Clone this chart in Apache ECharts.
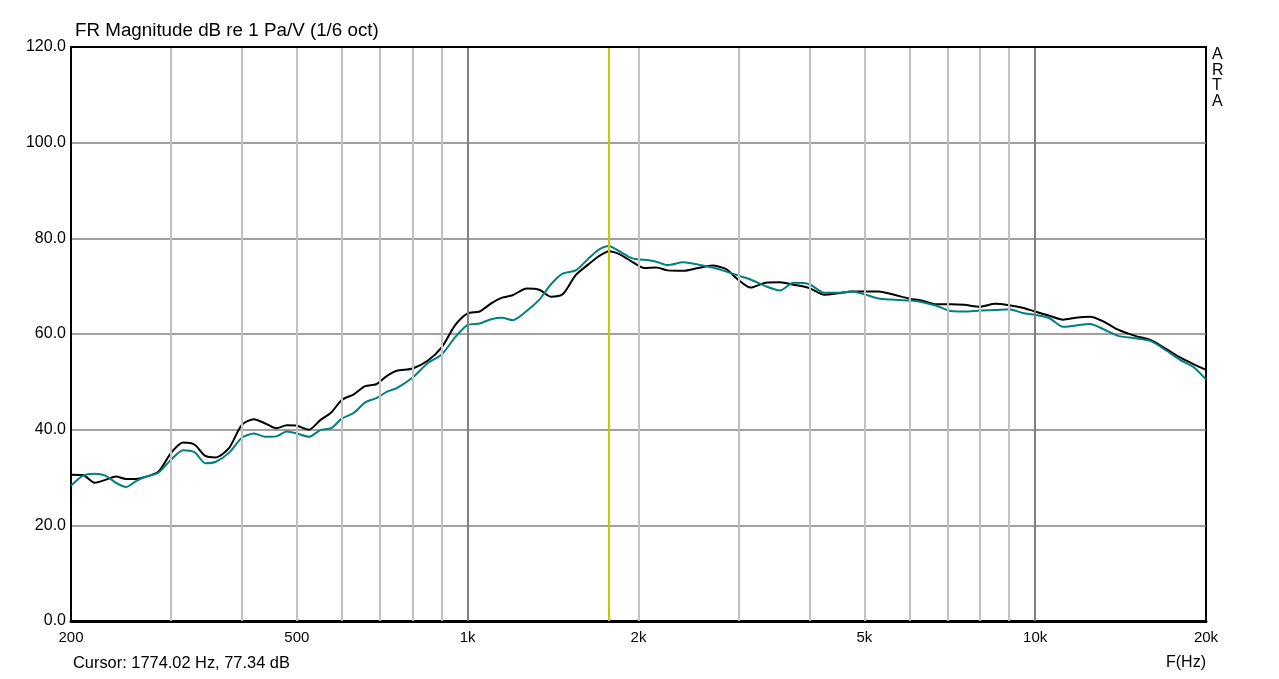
<!DOCTYPE html>
<html><head><meta charset="utf-8">
<script src="https://cdn.jsdelivr.net/npm/echarts@6/dist/echarts.min.js"></script>
<style>html,body{margin:0;padding:0;background:#fff}#c{width:1279px;height:679px}</style>
</head><body><div id="c"></div>
<script>
const freqs = [200,210,220,230,240,250,260,270,285,300,315,330,345,360,380,400,420,440,460,480,500,525,550,575,600,630,660,690,720,750,800,850,900,950,1000,1050,1100,1150,1200,1270,1340,1400,1470,1550,1630,1700,1774,1850,1950,2050,2150,2250,2400,2550,2700,2850,3000,3150,3350,3550,3750,4000,4250,4500,4750,5000,5300,5600,6000,6300,6700,7100,7500,8000,8500,9000,9500,10000,10600,11200,11800,12500,13200,14000,15000,16000,17000,18000,19000,20000];
const blackDb = [30.6,30.5,28.9,29.5,30.2,29.7,29.7,30.1,31.2,35.1,37.3,36.9,34.5,34.2,36.2,41.0,42.2,41.3,40.3,40.9,40.8,40.0,42.0,43.6,46.2,47.4,49.1,49.5,51.2,52.3,52.8,54.4,57.2,61.8,64.3,64.7,66.4,67.6,68.1,69.5,69.2,67.8,68.3,72.3,74.5,76.2,77.3,76.7,75.1,73.8,73.9,73.3,73.2,73.8,74.3,73.6,71.3,69.7,70.7,70.8,70.3,69.6,68.2,68.5,68.9,68.9,68.9,68.3,67.4,67.0,66.2,66.2,66.1,65.7,66.3,66.0,65.5,64.7,63.8,63.0,63.4,63.6,62.6,60.9,59.6,58.7,56.9,55.1,53.7,52.5];
const tealDb = [28.3,30.4,30.8,30.4,28.9,28.0,29.2,30.1,31.0,33.7,35.7,35.3,33.0,33.3,35.2,38.3,39.2,38.5,38.6,39.6,39.2,38.5,39.9,40.3,42.3,43.5,45.7,46.6,47.9,48.7,50.9,53.9,55.7,59.3,61.9,62.2,63.1,63.4,62.9,64.8,67.3,70.3,72.6,73.3,75.7,77.6,78.4,77.3,75.8,75.5,75.1,74.4,75.0,74.5,73.9,73.1,72.2,71.4,70.0,69.1,70.7,70.4,68.6,68.6,68.9,68.3,67.4,67.2,67.0,66.7,65.9,64.8,64.7,64.9,65.0,65.2,64.4,64.0,63.3,61.5,61.8,62.1,61.0,59.6,59.1,58.5,56.6,54.6,53.1,50.5];
const xTickValues = [200,500,1000,2000,5000,10000,20000];
const xTickText = ['200','500','1k','2k','5k','10k','20k'];
const minorGridFreqs = [300,400,500,600,700,800,900,2000,3000,4000,5000,6000,7000,8000,9000];
const majorGridFreqs = [1000,10000];
const cursorFreq = 1774.02;
const cursorText = 'Cursor: 1774.02 Hz, 77.34 dB';

const FONT = 'Liberation Sans, Arial, sans-serif';
const pair = (arr) => freqs.map((f,i)=>[f,arr[i]]);

const gridLines = [];
minorGridFreqs.forEach(f=>gridLines.push({xAxis:f,lineStyle:{color:'#c0c0c0',width:2,type:'solid'},label:{show:false}}));
majorGridFreqs.forEach(f=>gridLines.push({xAxis:f,lineStyle:{color:'#808080',width:2,type:'solid'},label:{show:false}}));
gridLines.push({xAxis:cursorFreq,lineStyle:{color:'#c8c800',width:2,type:'solid'},label:{show:false}});

const chart = echarts.init(document.getElementById('c'),null,{renderer:'canvas'});
chart.setOption({
  animation:false,
  backgroundColor:'#fff',
  grid:{left:71,right:73,top:47,bottom:58,show:true,borderColor:'#000',borderWidth:2,backgroundColor:'transparent'},
  xAxis:{type:'log',logBase:10,min:200,max:20000,axisLine:{show:true,onZero:false,lineStyle:{color:'#000',width:3}},axisTick:{show:false},axisLabel:{show:false},splitLine:{show:false}},
  yAxis:{type:'value',min:0,max:120,interval:20,axisLine:{show:true,lineStyle:{color:'#000',width:2}},axisTick:{show:false},
    axisLabel:{formatter:v=>v.toFixed(1),color:'#000',fontSize:16,fontFamily:FONT,margin:5},
    splitLine:{lineStyle:{color:'#808080',width:1.5}}},
  series:[
    {type:'line',data:pair(blackDb),symbol:'none',lineStyle:{opacity:0},silent:true,z:1,
     markLine:{silent:true,symbol:['none','none'],animation:false,data:gridLines}},
    {type:'line',data:pair(blackDb),symbol:'none',smooth:0.25,lineStyle:{color:'#000',width:2},z:3},
    {type:'line',data:pair(tealDb),symbol:'none',smooth:0.25,lineStyle:{color:'#008080',width:2},z:4,
     markLine:{silent:true,symbol:['none','none'],animation:false,label:{show:false},
       data:[{yAxis:120,lineStyle:{color:'#000',width:2,type:'solid'}}]}}
  ],
  graphic:[
    {type:'text',left:75,top:21,style:{text:'FR Magnitude dB re 1 Pa/V (1/6 oct)',fill:'#000',font:'18.8px '+FONT}},
    {type:'text',left:73,top:655,style:{text:cursorText,fill:'#000',font:'16.4px '+FONT}},
    {type:'text',right:73,top:655,style:{text:'F(Hz)',fill:'#000',font:'16px '+FONT}},
    {type:'text',left:1212,top:47,style:{text:'A\nR\nT\nA',fill:'#000',font:'16px '+FONT,lineHeight:15.5}}
  ]
});
const tickGraphics = xTickValues.map((f,i)=>{
  const p = chart.convertToPixel({xAxisIndex:0,yAxisIndex:0},[f,0]);
  return {type:'text',x:p[0],y:p[1]+17,style:{text:xTickText[i],fill:'#000',font:'15px '+FONT,align:'center',verticalAlign:'middle'}};
});
chart.setOption({graphic:tickGraphics.map((g,i)=>Object.assign({id:'xt'+i},g))});
</script></body></html>
